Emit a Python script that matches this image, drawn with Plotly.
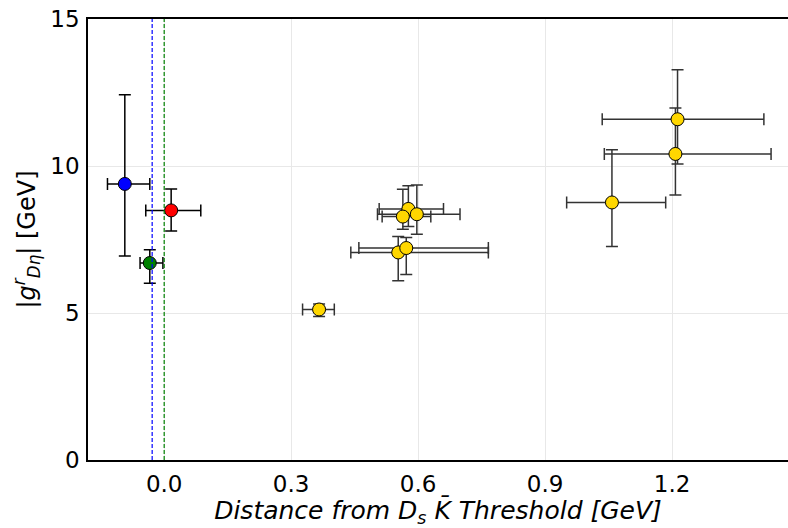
import plotly.graph_objects as go

# Coupling |g^r_{Dη}| against distance from the D_s K̄ threshold (GeV)

# Reference points (blue, red, green)
ref_labels = ["blue", "red", "green"]
ref_colors = ["#0000ff", "#ff0000", "#008000"]
ref_x = [-0.093, 0.0165, -0.034]
ref_x_plus = [0.059, 0.070, 0.031]
ref_x_minus = [0.041, 0.060, 0.023]
ref_y = [9.39, 8.49, 6.70]
ref_y_plus = [3.03, 0.73, 0.45]
ref_y_minus = [2.45, 0.70, 0.69]

# Yellow data set
pts_x = [0.366, 0.577, 0.564, 0.597, 0.553, 0.572, 1.058, 1.208, 1.213]
pts_x_plus = [0.036, 0.083, 0.066, 0.102, 0.213, 0.194, 0.127, 0.226, 0.204]
pts_x_minus = [0.039, 0.069, 0.049, 0.093, 0.112, 0.112, 0.107, 0.168, 0.178]
pts_y = [5.12, 8.54, 8.28, 8.36, 7.06, 7.21, 8.76, 10.41, 11.59]
pts_y_plus = [0.19, 0.79, 0.93, 0.99, 0.54, 0.36, 1.79, 1.56, 1.68]
pts_y_minus = [0.24, 0.60, 0.43, 0.68, 0.96, 0.90, 1.50, 1.40, 1.52]

# Vertical reference lines (dashed)
vline_x = [-0.0284, 0.0]
vline_colors = ["#0000ff", "#008000"]

x_ticks = [0.0, 0.3, 0.6, 0.9, 1.2]
x_tick_text = ["0.0", "0.3", "0.6", "0.9", "1.2"]
y_ticks = [0, 5, 10, 15]

x_range = [-0.180, 1.474]
y_range = [0, 15]

FONT = "DejaVu Sans"

fig = go.Figure()

for xv, col in zip(vline_x, vline_colors):
    fig.add_shape(type="line", xref="x", yref="paper", x0=xv, x1=xv, y0=0, y1=1,
                  line=dict(color=col, width=1.2, dash="4px,2px"), layer="above")

fig.add_trace(go.Scatter(
    x=pts_x, y=pts_y, mode="markers",
    marker=dict(color="#ffd700", size=13, line=dict(color="black", width=1)),
    error_x=dict(type="data", symmetric=False, array=pts_x_plus, arrayminus=pts_x_minus,
                 color="#333333", thickness=1.5, width=6),
    error_y=dict(type="data", symmetric=False, array=pts_y_plus, arrayminus=pts_y_minus,
                 color="#333333", thickness=1.5, width=6),
    showlegend=False, cliponaxis=False,
))

for i in range(len(ref_x)):
    fig.add_trace(go.Scatter(
        x=[ref_x[i]], y=[ref_y[i]], mode="markers", name=ref_labels[i],
        marker=dict(color=ref_colors[i], size=13, line=dict(color="black", width=1)),
        error_x=dict(type="data", symmetric=False, array=[ref_x_plus[i]],
                     arrayminus=[ref_x_minus[i]], color="black", thickness=1.5, width=6),
        error_y=dict(type="data", symmetric=False, array=[ref_y_plus[i]],
                     arrayminus=[ref_y_minus[i]], color="black", thickness=1.5, width=6),
        showlegend=False,
    ))

fig.update_layout(
    width=788, height=528,
    margin=dict(l=88, r=0, t=19, b=68),
    paper_bgcolor="white", plot_bgcolor="white",
    font=dict(family=FONT, size=23, color="black"),
    xaxis=dict(
        range=x_range, tickvals=x_ticks, ticktext=x_tick_text,
        showgrid=True, gridcolor="#e8e8e8", gridwidth=1, zeroline=False,
        showline=True, linecolor="black", linewidth=1.5, mirror=True,
        ticks="outside", ticklen=3, tickcolor="rgba(0,0,0,0)",
        tickfont=dict(family=FONT, size=23),
        title=dict(text="<i>Distance from D<sub>s</sub> K\u0304 Threshold [GeV]</i>",
                   font=dict(family=FONT, size=25), standoff=7),
    ),
    yaxis=dict(
        range=y_range, tickvals=y_ticks,
        showgrid=True, gridcolor="#e8e8e8", gridwidth=1, zeroline=False,
        showline=True, linecolor="black", linewidth=1.5, mirror=False,
        ticks="outside", ticklen=2, tickcolor="rgba(0,0,0,0)",
        tickfont=dict(family=FONT, size=23),
        title=dict(text="|<i>g</i><sup><i>r</i></sup><sub><i>Dη</i></sub>| [GeV]",
                   font=dict(family=FONT, size=24), standoff=8),
    ),
)

fig.write_html("out.html")
